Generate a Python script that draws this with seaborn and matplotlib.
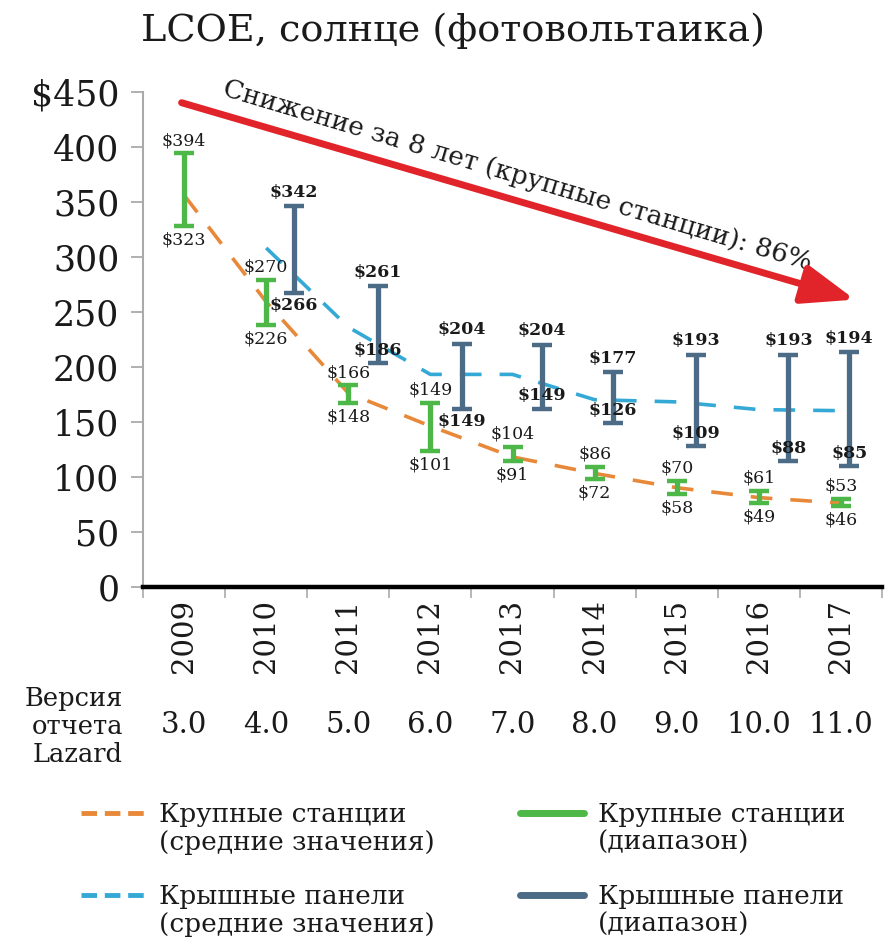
import numpy as np
import pandas as pd
import matplotlib
matplotlib.use("Agg")
import matplotlib.pyplot as plt
import seaborn as sns
from matplotlib.lines import Line2D
from matplotlib.legend_handler import HandlerLine2D

# ---------------- data ----------------
years = ["2009", "2010", "2011", "2012", "2013", "2014", "2015", "2016", "2017"]
versions = ["3.0", "4.0", "5.0", "6.0", "7.0", "8.0", "9.0", "10.0", "11.0"]

# utility-scale PV (range bars, as drawn) and mean line
util_low = [328, 238, 167, 123, 114, 98, 84, 76, 73]
util_high = [394, 279, 183, 167, 127, 109, 96, 87, 80]
util_mean = [356, 259, 176, 146, 118, 103, 90, 81, 76]
util_low_lbl = ["$323", "$226", "$148", "$101", "$91", "$72", "$58", "$49", "$46"]
util_high_lbl = ["$394", "$270", "$166", "$149", "$104", "$86", "$70", "$61", "$53"]

# rooftop PV (range bars, as drawn) and mean line
roof_low = [np.nan, 267, 203, 162, 162, 149, 128, 114, 110]
roof_high = [np.nan, 346, 273, 221, 220, 195, 211, 211, 213]
roof_mean = [np.nan, 308, 236, 193, 193, 170, 168, 161, 160]
roof_low_lbl = ["", "$266", "$186", "$149", "$149", "$126", "$109", "$88", "$85"]
roof_high_lbl = ["", "$342", "$261", "$204", "$204", "$177", "$193", "$193", "$194"]

title = "LCOE, солнце (фотовольтаика)"
arrow_text = "Снижение за 8 лет (крупные станции): 86%"
version_title = "Версия\nотчета\nLazard"
leg_labels = ["Крупные станции\n(средние значения)",
              "Крышные панели\n(средние значения)",
              "Крупные станции\n(диапазон)",
              "Крышные панели\n(диапазон)"]

# ---------------- style / layout ----------------
sns.set_theme(style="white")
plt.rcParams["font.family"] = ["DejaVu Serif", "DejaVu Sans"]

C_ORANGE = "#E8893A"
C_LBLUE = "#35A9D6"
C_GREEN = "#4DB848"
C_SLATE = "#4B6B86"
C_RED = "#E0242A"
C_TXT = "#1a1a1a"

# dodge of the rooftop bars relative to the category centre (layout only)
roof_dodge = [0.3, 0.34, 0.36, 0.38, 0.36, 0.22, 0.23, 0.36, 0.1]
roof_low_inside = [False, False, True, False, True, True, True, True, True]

df = pd.DataFrame({
    "pos": np.arange(len(years)),
    "year": years,
    "util_low": util_low, "util_high": util_high, "util_mean": util_mean,
    "roof_low": roof_low, "roof_high": roof_high, "roof_mean": roof_mean,
})
df["roof_pos"] = df["pos"] + np.array(roof_dodge)

fig = plt.figure(figsize=(8.86, 9.38), dpi=100)
ax = fig.add_axes([143 / 886, (938 - 586.7) / 938, 739 / 886, 495 / 938])

# mean lines
sns.lineplot(data=df, x="pos", y="util_mean", ax=ax, color=C_ORANGE, lw=2.6,
             linestyle=(0, (6, 5)), zorder=2)
sns.lineplot(data=df.dropna(subset=["roof_mean"]), x="pos", y="roof_mean", ax=ax,
             color=C_LBLUE, lw=2.6, linestyle=(0, (6, 5)), zorder=2)

# range bars
u_mid = (df["util_low"] + df["util_high"]) / 2
ax.errorbar(df["pos"], u_mid, yerr=[u_mid - df["util_low"], df["util_high"] - u_mid],
            fmt="none", ecolor=C_GREEN, elinewidth=3.8, capsize=7.5, capthick=3.2, zorder=3)
rd = df.dropna(subset=["roof_low"])
r_mid = (rd["roof_low"] + rd["roof_high"]) / 2
ax.errorbar(rd["roof_pos"], r_mid, yerr=[r_mid - rd["roof_low"], rd["roof_high"] - r_mid],
            fmt="none", ecolor=C_SLATE, elinewidth=3.8, capsize=7.5, capthick=3.2, zorder=3)

# value labels
for i in range(len(years)):
    ax.annotate(util_high_lbl[i], (i, util_high[i]), xytext=(0, 3), textcoords="offset points",
                ha="center", va="bottom", fontsize=12.5, color=C_TXT, zorder=5)
    ax.annotate(util_low_lbl[i], (i, util_low[i]), xytext=(0, -4), textcoords="offset points",
                ha="center", va="top", fontsize=12.5, color=C_TXT, zorder=5)
    if roof_high_lbl[i]:
        rx = df["roof_pos"][i]
        ax.annotate(roof_high_lbl[i], (rx, roof_high[i]), xytext=(0, 4),
                    textcoords="offset points", ha="center", va="bottom",
                    fontsize=12.5, fontweight="bold", color=C_TXT, zorder=5)
        if roof_low_inside[i]:
            ax.annotate(roof_low_lbl[i], (rx, roof_low[i]), xytext=(0, 3),
                        textcoords="offset points", ha="center", va="bottom",
                        fontsize=12.5, fontweight="bold", color=C_TXT, zorder=5)
        else:
            ax.annotate(roof_low_lbl[i], (rx, roof_low[i]), xytext=(0, -3),
                        textcoords="offset points", ha="center", va="top",
                        fontsize=12.5, fontweight="bold", color=C_TXT, zorder=5)

# red arrow with text
ax.annotate("", xy=(8.17, 261), xytext=(-0.03, 440),
            arrowprops=dict(arrowstyle="-|>,head_length=1.6,head_width=0.6",
                            color=C_RED, lw=5, mutation_scale=20, shrinkA=0, shrinkB=0),
            annotation_clip=False, zorder=4)
ax.text(4.06, 374, arrow_text, rotation=-16.6, rotation_mode="anchor",
        ha="center", va="center", fontsize=19, color=C_TXT, clip_on=False)

# axes
ax.set_xlim(-0.5, len(years) - 0.5)
ax.set_ylim(0, 450)
ax.set_xlabel("")
ax.set_ylabel("")
yt = np.arange(0, 451, 50)
ax.set_yticks(yt)
ax.set_yticklabels([("$" + str(v)) if v == 450 else str(v) for v in yt])
ax.set_xticks(np.arange(len(years)))
ax.set_xticklabels(years, rotation=90)
ax.set_xticks(np.arange(len(years) + 1) - 0.5, minor=True)
ax.tick_params(axis="y", which="major", length=9, width=1.3, color="#AAAAAA",
               labelsize=25, pad=8, left=True, labelcolor=C_TXT)
ax.tick_params(axis="x", which="major", length=0, labelsize=21, pad=9,
               bottom=True, labelcolor=C_TXT)
ax.tick_params(axis="x", which="minor", length=8, width=1.2, color="#AAAAAA",
               bottom=True, direction="out")
for s in ["top", "right"]:
    ax.spines[s].set_visible(False)
ax.spines["left"].set_color("#AAAAAA")
ax.spines["left"].set_linewidth(1.5)
ax.spines["bottom"].set_color("black")
ax.spines["bottom"].set_linewidth(3.2)
ax.spines["bottom"].set_zorder(6)
ax.grid(False)

# version row
for i, v in enumerate(versions):
    ax.text(i, -0.279, v, transform=ax.get_xaxis_transform(), ha="center", va="center",
            fontsize=21, color=C_TXT)
fig.text(123 / 886, (938 - 726) / 938, version_title, ha="right", va="center",
         fontsize=18.5, linespacing=1.15, color=C_TXT)

# title
fig.text(453 / 886, (938 - 31) / 938, title, ha="center", va="center", fontsize=27.5, color=C_TXT)


# legend (handles aligned with the first text line, as in the reference)
class FirstLineHandler(HandlerLine2D):
    def create_artists(self, legend, orig_handle, xdescent, ydescent, width, height,
                       fontsize, trans):
        arts = super().create_artists(legend, orig_handle, xdescent, ydescent, width,
                                      height, fontsize, trans)
        for a in arts:
            a.set_ydata(np.asarray(a.get_ydata(), dtype=float) + 0.62 * fontsize)
        return arts


handles = [
    Line2D([], [], color=C_ORANGE, lw=3.5, linestyle=(0, (3.2, 1.6))),
    Line2D([], [], color=C_LBLUE, lw=3.5, linestyle=(0, (3.2, 1.6))),
    Line2D([], [], color=C_GREEN, lw=5),
    Line2D([], [], color=C_SLATE, lw=5),
]
leg = fig.legend(handles, leg_labels, loc="upper left", bbox_to_anchor=(81 / 886, (938 - 802) / 938),
                 ncol=2, frameon=False, fontsize=19, handlelength=2.4, handletextpad=0.55,
                 columnspacing=3.25, labelspacing=1.1, borderpad=0, borderaxespad=0,
                 handler_map={Line2D: FirstLineHandler()})
for t in leg.get_texts():
    t.set_linespacing(1.15)
    t.set_color(C_TXT)

fig.savefig("out.png", dpi=100)
